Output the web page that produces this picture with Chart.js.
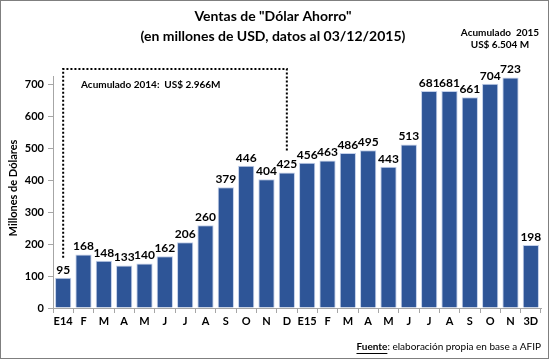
<!DOCTYPE html>
<html>
<head>
<meta charset="utf-8">
<script src="https://cdn.jsdelivr.net/npm/chart.js@4"></script>
<style>
html,body{margin:0;padding:0;background:#fff;}
#wrap{position:relative;width:549px;height:359px;}
canvas{display:block;}
</style>
</head>
<body>
<div id="wrap"><canvas id="c" width="549" height="359"></canvas></div>
<script>
const categories = ["E14","F","M","A","M","J","J","A","S","O","N","D","E15","F","M","A","M","J","J","A","S","O","N","3D"];
const ventas = [95,168,148,133,140,162,206,260,379,446,404,425,456,463,486,495,443,513,681,681,661,704,723,198];
const yTicks = [0,100,200,300,400,500,600,700];
const titleLines = ['Ventas de "Dólar Ahorro"', '(en millones de USD, datos al 03/12/2015)'];
const acum2015 = ['Acumulado  2015', 'US$ 6.504 M'];
const acum2014 = 'Acumulado 2014:  US$ 2.966M';
const yTitle = 'Millones de Dólares';
const fuenteBold = 'Fuente';
const fuenteRest = ': elaboración propia en base a AFIP';

const FONT = 'Lato, "Open Sans", sans-serif';

const extras = {
  id: 'extras',
  afterDraw(chart) {
    const ctx = chart.ctx;
    const xs = chart.scales.x, ys = chart.scales.y;
    const meta = chart.getDatasetMeta(0);
    ctx.save();
    // data labels
    ctx.fillStyle = '#000';
    ctx.font = 'bold 12px ' + FONT;
    ctx.textAlign = 'center';
    ctx.textBaseline = 'bottom';
    meta.data.forEach((bar, i) => {
      ctx.fillText(String(ventas[i]), bar.x, bar.y - 2);
    });
    // dotted box for 2014
    const xL = xs.getPixelForValue(0), xR = xs.getPixelForValue(11);
    const yTop = ys.getPixelForValue(750);
    const yLb = meta.data[0].y - 20, yRb = meta.data[11].y - 20;
    ctx.strokeStyle = '#000';
    ctx.lineWidth = 2;
    ctx.setLineDash([2, 2]);
    ctx.beginPath();
    ctx.moveTo(xL, yLb); ctx.lineTo(xL, yTop); ctx.lineTo(xR, yTop); ctx.lineTo(xR, yRb);
    ctx.stroke();
    ctx.setLineDash([]);
    // 2014 text
    ctx.font = 'bold 10px ' + FONT;
    ctx.textAlign = 'left';
    ctx.textBaseline = 'middle';
    ctx.fillText(acum2014, 81, 85);
    // titles
    ctx.font = 'bold 14px ' + FONT;
    ctx.textAlign = 'center';
    ctx.fillText(titleLines[0], 273, 16);
    ctx.fillText(titleLines[1], 273, 36);
    ctx.font = 'bold 10px ' + FONT;
    ctx.fillText(acum2015[0], 500, 33);
    ctx.fillText(acum2015[1], 500, 45);
    // y title
    ctx.save();
    ctx.translate(13, 188);
    ctx.rotate(-Math.PI / 2);
    ctx.font = 'bold 11px ' + FONT;
    ctx.textAlign = 'center';
    ctx.fillText(yTitle, 0, 0);
    ctx.restore();
    // footer
    ctx.font = '10px ' + FONT;
    ctx.textAlign = 'right';
    const restW = ctx.measureText(fuenteRest).width;
    const xEnd = 541;
    ctx.fillText(fuenteRest, xEnd, 347);
    ctx.font = 'bold 10px ' + FONT;
    ctx.textAlign = 'right';
    const bw = ctx.measureText(fuenteBold).width;
    const bx = xEnd - restW;
    ctx.fillText(fuenteBold, bx, 347);
    ctx.lineWidth = 1;
    ctx.beginPath();
    ctx.moveTo(bx - bw, 353.5); ctx.lineTo(bx, 353.5);
    ctx.stroke();
    // outer border
    ctx.strokeStyle = '#7f7f7f';
    ctx.lineWidth = 1;
    ctx.strokeRect(0.5, 0.5, chart.width - 1, chart.height - 1);
    ctx.restore();
  }
};

new Chart(document.getElementById('c'), {
  type: 'bar',
  data: {
    labels: categories,
    datasets: [{
      data: ventas,
      backgroundColor: '#2E5597',
      borderColor: '#c3d0ea',
      borderWidth: 1,
      barPercentage: 0.8,
      categoryPercentage: 1.0
    }]
  },
  options: {
    responsive: false,
    animation: false,
    devicePixelRatio: 1,
    layout: { padding: { left: 0, right: 8, top: 76, bottom: 27 } },
    plugins: { legend: { display: false }, tooltip: { enabled: false }, title: { display: false } },
    scales: {
      x: {
        grid: { display: true, offset: true, drawOnChartArea: false, drawTicks: true, tickLength: 5, color: '#a6a6a6' },
        border: { color: '#a6a6a6' },
        ticks: { color: '#000', font: { family: FONT, size: 11, weight: 'bold' }, padding: 2, maxRotation: 0, autoSkip: false },
        afterFit(s) { s.height = 24; }
      },
      y: {
        min: 0, max: 728,
        afterBuildTicks(s) { s.ticks = yTicks.map(v => ({ value: v })); },
        grid: { display: true, drawOnChartArea: false, drawTicks: true, tickLength: 5, color: '#a6a6a6' },
        border: { color: '#a6a6a6' },
        ticks: { color: '#000', font: { family: FONT, size: 11, weight: 'bold' }, padding: 4 },
        afterFit(s) { s.width = 53; }
      }
    }
  },
  plugins: [extras]
});
</script>
</body>
</html>
